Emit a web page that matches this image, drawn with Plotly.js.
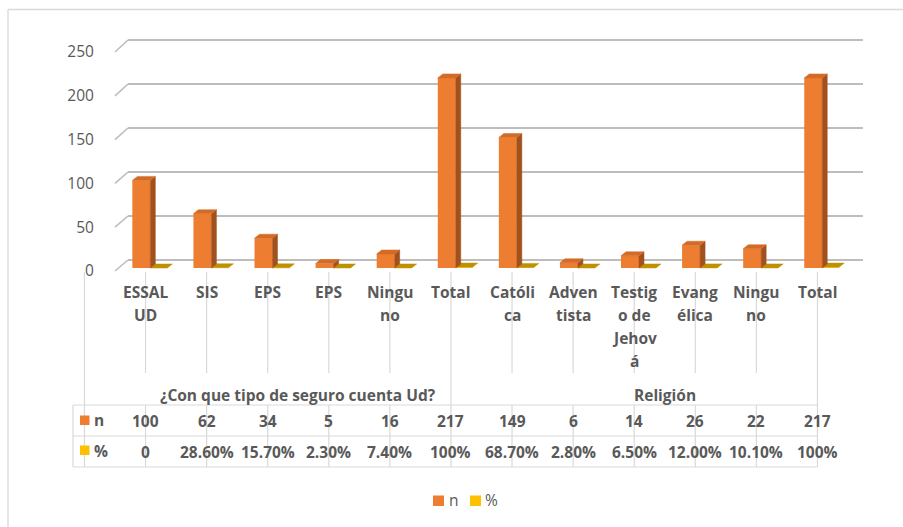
<!DOCTYPE html>
<html><head><meta charset="utf-8">
<script src="https://cdn.plot.ly/plotly-3.0.1.min.js"></script>
<style>html,body{margin:0;padding:0;background:#fff}#chart{width:903px;height:527px}</style>
</head><body><div id="chart"></div>
<script>
// ---- data ----
const categoryLabels = ["ESSAL<br>UD","SIS","EPS","EPS","Ningu<br>no","Total","Católi<br>ca","Adven<br>tista","Testig<br>o de<br>Jehov<br>á","Evang<br>élica","Ningu<br>no","Total"];
const groupLabels = ["¿Con que tipo de seguro cuenta Ud?","Religión"];
const groupSizes = [6,6];
const seriesNames = ["n","%"];
const nValues = [100,62,34,5,16,217,149,6,14,26,22,217];
const pctValues = [0,0.286,0.157,0.023,0.074,1,0.687,0.028,0.065,0.12,0.101,1];
const pctLabels = ["0","28.60%","15.70%","2.30%","7.40%","100%","68.70%","2.80%","6.50%","12.00%","10.10%","100%"];
const yTicks = [0,50,100,150,200,250];

// ---- styling / geometry ----
const W=903,H=527,L=115,R=40,T=36,B=256;
const PW=W-L-R, PH=H-T-B;
const nCat=categoryLabels.length;
const frontXEnd=733/PW;
const catPx=733/nCat;
const yMax=250;
const pX=x=>(x-L)/PW;
const pY=y=>(H-B-y)/PH;
const frontDom=[pY(271),pY(52)];
const pxU=219/yMax;
const padU=2;
const backDom=[pY(260+padU*0.88),pY(40-padU*0.88)];
const backXDom=[pX(128),1];
const shift=3/pxU;
const FONT="'Open Sans', Lato, sans-serif";
const TXT="#595959";
const GRID="#bdbdbd";
const TBL="#d9d9d9";
const C_N="#ED7D31", C_N_SIDE="#A2511D", C_N_TOP="#D36B26";
const C_P="#FFC000", C_P_TOP="#BF9000";
const catPaper=i=>(i+0.5)/nCat*frontXEnd; // paper x of boundary right of category i

const idx=categoryLabels.map((_,i)=>i);
const nOff=-13.2/catPx, bw=18/catPx, pOff=4.8/catPx, pw=17/catPx;
const dx=5/catPx, dy=4/pxU;

function polys(vals, xl0, w, kind){
  const xs=[], ys=[];
  vals.forEach((v,i)=>{
    const xl=i+xl0, xr=xl+w;
    if(kind==='side'){
      xs.push(xr,xr,xr+dx,xr+dx,xr,null); ys.push(0,v,v+dy,dy,0,null);
    } else {
      xs.push(xl,xr,xr+dx,xl+dx,xl,null); ys.push(v,v,v+dy,v+dy,v,null);
    }
  });
  return {xs,ys};
}
const pTop=polys(pctValues,pOff,pw,'top');
const nSide=polys(nValues,nOff,bw,'side');
const nTop=polys(nValues,nOff,bw,'top');
const face=(p,col)=>({type:'scatter',x:p.xs,y:p.ys,xaxis:'x2',yaxis:'y3',mode:'lines',fill:'toself',
  fillcolor:col,line:{width:0.5,color:col},hoverinfo:'skip',showlegend:false});

const traces=[
  {type:'scatter',x:[],y:[],xaxis:'x',yaxis:'y',showlegend:false,hoverinfo:'skip'},
  {type:'scatter',x:[],y:[],xaxis:'x2',yaxis:'y2',showlegend:false,hoverinfo:'skip'},
  {type:'bar',name:seriesNames[1],x:idx,y:pctValues,xaxis:'x2',yaxis:'y3',width:pw,offset:pOff,marker:{color:C_P,line:{width:0}},showlegend:false},
  {type:'bar',name:seriesNames[0],x:idx,y:nValues,xaxis:'x2',yaxis:'y3',width:bw,offset:nOff,marker:{color:C_N,line:{width:0}},showlegend:false},
  face(pTop,C_P_TOP),
  face(nSide,C_N_SIDE),
  face(nTop,C_N_TOP)
];

const shapes=[], ann=[];
const line=(x0,y0,x1,y1,c,w)=>shapes.push({type:'line',xref:'paper',yref:'paper',x0,y0,x1,y1,line:{color:c,width:w}});
// chart border
line(pX(8),pY(9.5),pX(8),pY(530),TBL,1.3);
line(pX(8),pY(9.5),pX(905),pY(9.5),TBL,1.3);
// 3D slants (front tick position -> back wall gridline)
const backRange=[-padU,yMax+padU];
yTicks.forEach(v=>{
  const f=frontDom[0]+v/yMax*(frontDom[1]-frontDom[0]);
  const b=backDom[0]+(v-backRange[0])/(backRange[1]-backRange[0])*(backDom[1]-backDom[0]);
  line(0,f,backXDom[0],b,GRID,1.6);
});
// table
const yTop=pY(272), yLab=pY(373), yR0=pY(405), yR1=pY(436), yR2=pY(467);
[yR0,yR1,yR2].forEach(y=>line(pX(73),y,catPaper(nCat-1),y,TBL,1.2));
line(pX(73),yR0,pX(73),yR2,TBL,1.2);
let acc=0; const gb=[-1];
groupSizes.forEach(s=>{acc+=s; gb.push(acc-1);});
for(let i=-1;i<nCat;i++){
  const x=catPaper(i);
  if(gb.includes(i)) line(x,yTop,x,yR2,TBL,1.2);
  else { line(x,yTop,x,yLab,TBL,1.2); line(x,yR0,x,yR2,TBL,1.2); }
}
// category labels + values
const f16b={family:FONT,size:15.5,color:TXT,weight:'bold'};
categoryLabels.forEach((lab,i)=>{
  lab.split('<br>').forEach((t,k)=>ann.push({xref:'x2',yref:'paper',x:i,y:pY(292+23*k),text:t,showarrow:false,font:f16b,yanchor:'middle'}));
  ann.push({xref:'x2',yref:'paper',x:i,y:pY(421),text:String(nValues[i]),showarrow:false,font:f16b,yanchor:'middle'});
  ann.push({xref:'x2',yref:'paper',x:i,y:pY(452),text:pctLabels[i],showarrow:false,font:f16b,yanchor:'middle'});
});
let start=0;
groupLabels.forEach((g,j)=>{
  const c=start+(groupSizes[j]-1)/2; start+=groupSizes[j];
  ann.push({xref:'x2',yref:'paper',x:c,y:pY(395),text:g,showarrow:false,font:f16b,yanchor:'middle'});
});
// row labels
const rect=(x0,y0,x1,y1,c)=>shapes.push({type:'rect',xref:'paper',yref:'paper',x0:pX(x0),y0:pY(y0),x1:pX(x1),y1:pY(y1),fillcolor:c,line:{width:0}});
rect(80,415.5,89.5,425,C_N); rect(80,445.5,89.5,455,C_P);
ann.push({xref:'paper',yref:'paper',x:pX(92),y:pY(420),xanchor:'left',text:seriesNames[0],showarrow:false,font:f16b,yanchor:'middle'});
ann.push({xref:'paper',yref:'paper',x:pX(92),y:pY(451),xanchor:'left',text:seriesNames[1],showarrow:false,font:f16b,yanchor:'middle'});
// legend
const f16={family:FONT,size:15.5,color:TXT};
rect(433,495.5,444,506,C_N); rect(470,495.5,481,506,C_P);
ann.push({xref:'paper',yref:'paper',x:pX(446.5),y:pY(500),xanchor:'left',text:seriesNames[0],showarrow:false,font:f16,yanchor:'middle'});
ann.push({xref:'paper',yref:'paper',x:pX(483),y:pY(500),xanchor:'left',text:seriesNames[1],showarrow:false,font:f16,yanchor:'middle'});

const layout={
  width:W,height:H,margin:{l:L,r:R,t:T,b:B},paper_bgcolor:'#fff',plot_bgcolor:'rgba(0,0,0,0)',
  showlegend:false,barmode:'overlay',font:{family:FONT,color:TXT},
  xaxis:{domain:backXDom,range:[0,1],anchor:'y',visible:false,fixedrange:true},
  yaxis:{domain:backDom,range:backRange,anchor:'x',tickvals:yTicks,showgrid:true,gridcolor:GRID,gridwidth:1.6,
    showticklabels:false,zeroline:false,showline:false,ticks:'',fixedrange:true},
  xaxis2:{domain:[0,frontXEnd],range:[-0.5,nCat-0.5],anchor:'y2',showticklabels:false,showgrid:false,zeroline:false,showline:false,ticks:'',fixedrange:true},
  yaxis2:{domain:frontDom,range:[0,yMax],anchor:'x2',tickvals:yTicks,ticks:'outside',ticklen:17,tickcolor:'rgba(0,0,0,0)',
    showgrid:false,zeroline:false,showline:false,showticklabels:true,tickfont:{family:FONT,size:15.5,color:TXT},fixedrange:true},
  yaxis3:{overlaying:'y2',domain:frontDom,range:[-shift,yMax-shift],anchor:'x2',showticklabels:false,showgrid:false,zeroline:false,showline:false,ticks:'',fixedrange:true},
  shapes,annotations:ann
};
Plotly.newPlot('chart',traces,layout,{displayModeBar:false,staticPlot:true});
</script></body></html>
